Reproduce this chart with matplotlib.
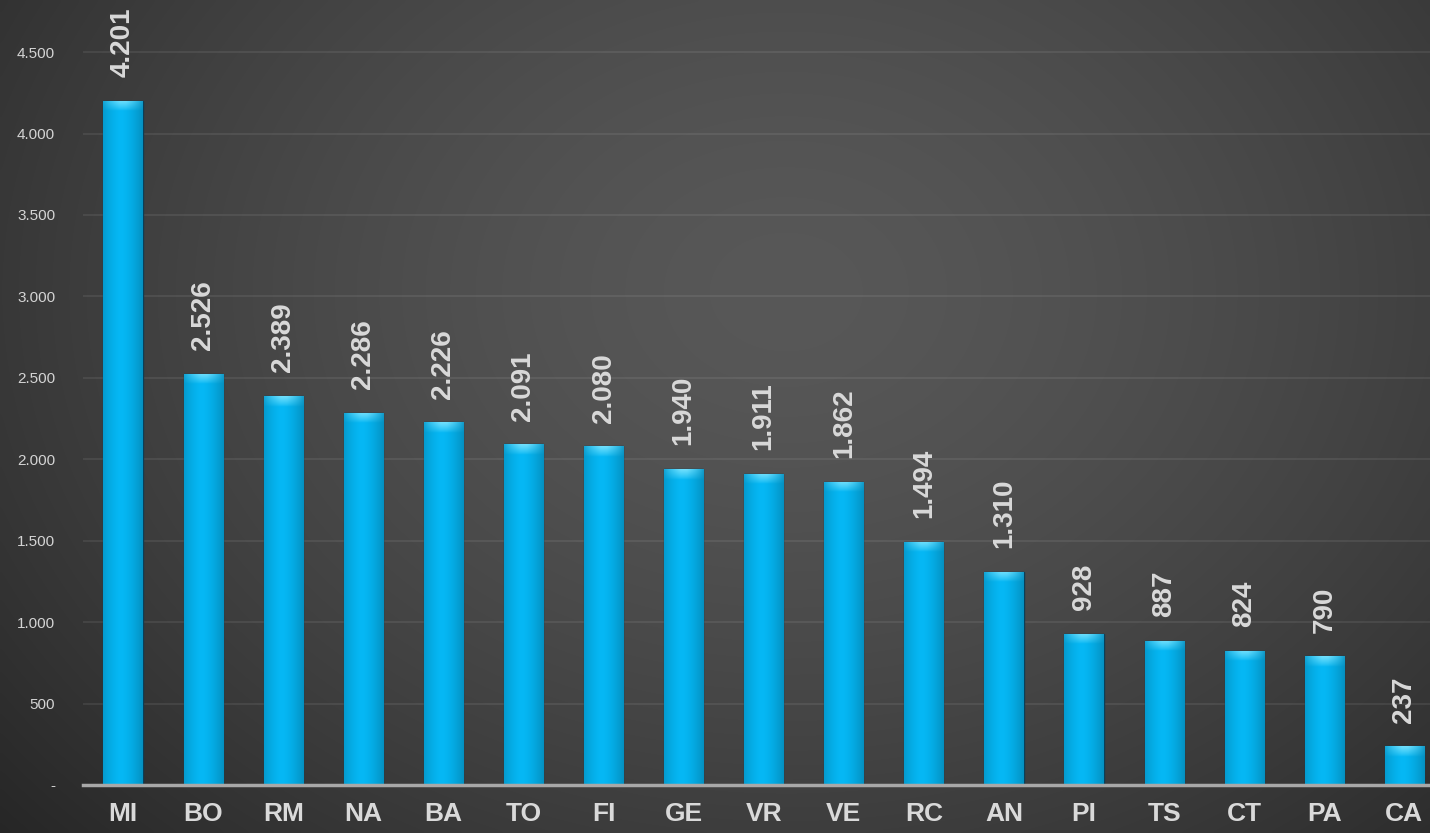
import numpy as np
import matplotlib
matplotlib.use("Agg")
import matplotlib.pyplot as plt

# data
cities = ["MI", "BO", "RM", "NA", "BA", "TO", "FI", "GE", "VR", "VE",
          "RC", "AN", "PI", "TS", "CT", "PA", "CA"]
values = [4201, 2526, 2389, 2286, 2226, 2091, 2080, 1940, 1911, 1862,
          1494, 1310, 928, 887, 824, 790, 237]
yticks = [0, 500, 1000, 1500, 2000, 2500, 3000, 3500, 4000, 4500]


def it_fmt(v):
    """Italian thousands separator, '-' for zero."""
    if v == 0:
        return "-"
    return f"{v:,}".replace(",", ".")


plt.rcParams["font.family"] = ["Liberation Sans", "DejaVu Sans"]

fig = plt.figure(figsize=(14.3, 8.33), dpi=100)

# radial dark-gray background, lighter towards the upper middle
bg = fig.add_axes([0, 0, 1, 1], zorder=0)
gx, gy = np.meshgrid(np.linspace(0, 1, 400), np.linspace(0, 1, 240))
r = np.sqrt(((gx - 0.55) / 0.75) ** 2 + ((gy - 0.35) / 1.0) ** 2)
shade = np.clip(0.345 - 0.2 * r ** 1.5, 0.15, 0.35)
bg.imshow(np.dstack([shade] * 3), aspect="auto", extent=[0, 1, 0, 1],
          interpolation="bicubic")
bg.axis("off")

ax = fig.add_axes([83 / 1430, 48 / 833, 1 - 83 / 1430, 1 - 48 / 833], zorder=1)
ax.patch.set_alpha(0)

x = np.arange(len(cities))
bars = ax.bar(x, values, width=0.49, color="#0db2ec", edgecolor="#0b3f57",
              linewidth=1.0, zorder=3)

# horizontal gradient on each bar, clipped to the bar
hgrad = np.linspace(0, 1, 64)
tone = 1 - 0.55 * np.abs(hgrad - 0.45) ** 1.6
bar_img = np.zeros((1, 64, 3))
bar_img[0, :, 0] = 0.02 * tone
bar_img[0, :, 1] = 0.72 * tone
bar_img[0, :, 2] = 0.96 * tone

# soft bevel highlight at the top of each bar
cap_img = np.zeros((16, 64, 4))
cap_img[..., 0] = 0.55
cap_img[..., 1] = 0.92
cap_img[..., 2] = 1.0
fade = np.linspace(1.0, 0.0, 16) ** 0.8
side = np.clip(1.15 - np.abs(hgrad - 0.5) * 2.0, 0, 1)
cap_img[..., 3] = 0.8 * np.outer(fade, side)

for b in bars:
    bx, bw, bh = b.get_x(), b.get_width(), b.get_height()
    im = ax.imshow(bar_img, extent=[bx, bx + bw, 0, bh], aspect="auto",
                   interpolation="bicubic", zorder=3.5)
    im.set_clip_path(b)
    top = ax.imshow(cap_img, extent=[bx, bx + bw, bh - 65, bh], aspect="auto",
                    interpolation="bicubic", zorder=3.6)
    top.set_clip_path(b)

for xi, v in zip(x, values):
    ax.annotate(it_fmt(v), (xi, v), xytext=(0, 17), textcoords="offset points",
                rotation=90, ha="center", va="bottom", fontsize=20,
                fontweight="bold", color="#d9d9d9", zorder=5)

ax.set_xlim(-0.5, 16.32)
ax.set_ylim(0, 4820)
ax.set_yticks(yticks)
ax.set_yticklabels([it_fmt(t) for t in yticks], fontsize=11, color="#d4d4d4")
ax.set_xticks(x)
ax.set_xticklabels(cities, fontsize=19, fontweight="bold", color="#d9d9d9")
ax.tick_params(axis="y", length=0, pad=20)
ax.tick_params(axis="x", length=0, pad=12)
ax.grid(axis="y", color="white", alpha=0.09, linewidth=1.2, zorder=1)
ax.set_axisbelow(True)
for s in ["top", "right", "left"]:
    ax.spines[s].set_visible(False)
ax.spines["bottom"].set_color("#a8a8a8")
ax.spines["bottom"].set_linewidth(2.5)
ax.spines["bottom"].set_zorder(4)

fig.savefig("out.png", dpi=100)
